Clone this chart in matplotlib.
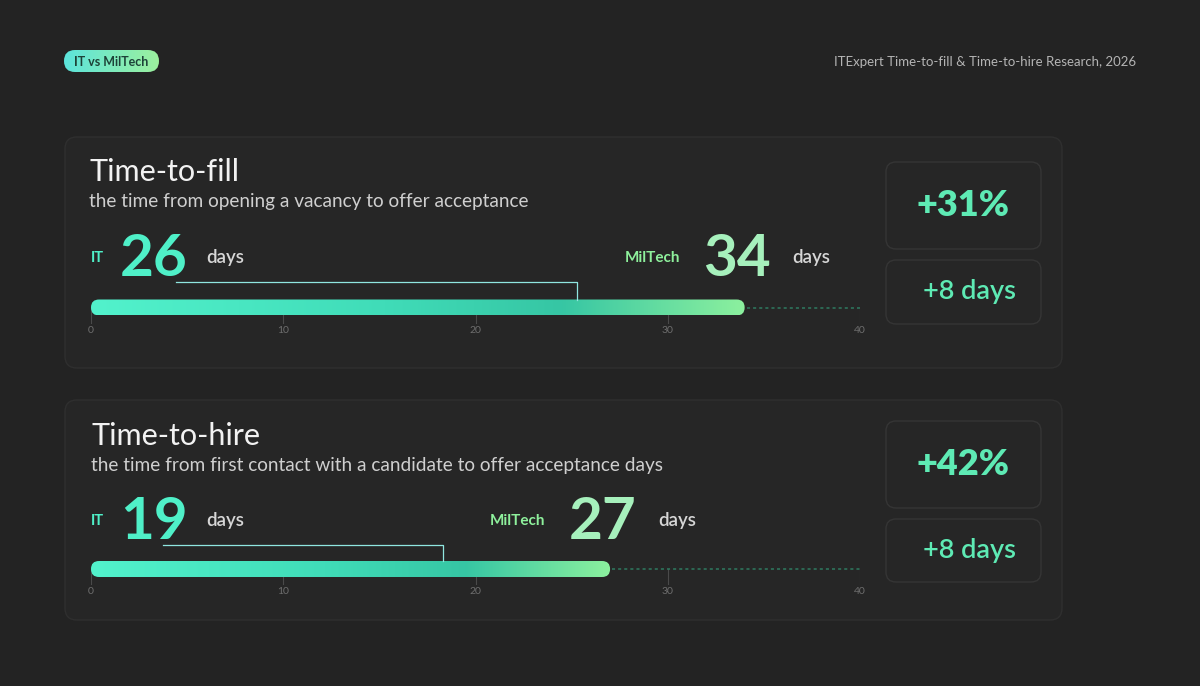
import numpy as np
import matplotlib
matplotlib.use("Agg")
import matplotlib.pyplot as plt
from matplotlib.patches import FancyBboxPatch
from matplotlib.colors import LinearSegmentedColormap

plt.rcParams["font.family"] = ["Lato", "DejaVu Sans"]

# data
metrics = ["Time-to-fill", "Time-to-hire"]
subtitles = ["the time from opening a vacancy to offer acceptance",
             "the time from first contact with a candidate to offer acceptance days"]
it_days = [26, 19]
miltech_days = [34, 27]
pct_diff = ["+31%", "+42%"]
day_diff = ["+8 days", "+8 days"]
ticks = [0, 10, 20, 30, 40]

BG = "#232323"
PANEL = "#262626"
EDGE = "#2f2f2f"
C_IT = "#4ff0c8"
C_MIL = "#8ef09c"
C_MIL_NUM = "#a6f0bc"
C_ACC = "#5eeab4"

fig = plt.figure(figsize=(12, 6.86), dpi=100, facecolor=BG)
bg = fig.add_axes([0, 0, 1, 1])
bg.set_xlim(0, 1200)
bg.set_ylim(686, 0)
bg.axis("off")
bg.set_facecolor(BG)


def rbox(ax, x0, y0, x1, y1, r, fc, ec, lw=1.0, z=1):
    p = FancyBboxPatch((x0, y0), x1 - x0, y1 - y0,
                       boxstyle=f"round,pad=0,rounding_size={r}",
                       fc=fc, ec=ec, lw=lw, zorder=z)
    ax.add_patch(p)
    return p


# header pill
pill = rbox(bg, 64, 50, 159, 72, 11, "none", "none", z=2)
grad = np.linspace(0, 1, 256).reshape(1, -1)
pill_cmap = LinearSegmentedColormap.from_list("pill", ["#5ce4dc", "#9cf09e"])
im = bg.imshow(grad, extent=(64, 159, 72, 50), cmap=pill_cmap, aspect="auto", zorder=2)
im.set_clip_path(pill)
bg.text(111.5, 61.5, "IT vs MilTech", ha="center", va="center", fontsize=9,
        fontweight="bold", color="#1d4238", zorder=3)
bg.text(1136, 61.5, "ITExpert Time-to-fill & Time-to-hire Research, 2026",
        ha="right", va="center", fontsize=9.5, color="#b4b4b4")

bar_cmap = LinearSegmentedColormap.from_list(
    "bar", [(0, "#52f2cc"), (0.45, "#40dcb8"), (0.72, "#36c6a4"), (1, "#8cf09e")])

# panel layout (pixels)
panels = [
    dict(box=(65, 137, 1062, 368), title_y=172, sub_y=202, row_y=258, bar_y=307.5,
         b1=(886, 162, 1041, 249), b2=(886, 260, 1041, 324), title_x=89, cx0=4.4),
    dict(box=(65, 400, 1062, 620), title_y=436, sub_y=465, row_y=521, bar_y=569,
         b1=(886, 421, 1041, 508), b2=(886, 519, 1041, 582), title_x=91, cx0=3.75),
]

px_per_day = (860 - 91) / 40.0
bar_h = 16

for i, P in enumerate(panels):
    x0, y0, x1, y1 = P["box"]
    rbox(bg, x0, y0, x1, y1, 12, PANEL, EDGE, lw=1.0)
    rbox(bg, *P["b1"], 10, PANEL, "#353535", lw=1.0)
    rbox(bg, *P["b2"], 10, PANEL, "#353535", lw=1.0)

    bg.text(P["title_x"], P["title_y"], metrics[i], ha="left", va="center",
            fontsize=22, color="#f2f2f2")
    bg.text(P["title_x"], P["sub_y"], subtitles[i], ha="left", va="center",
            fontsize=13.7, color="#cfcfcf")

    bx = P["b1"]
    bg.text((bx[0] + bx[2]) / 2, (bx[1] + bx[3]) / 2, pct_diff[i], ha="center",
            va="center", fontsize=26, fontweight="heavy", color=C_ACC)
    bx = P["b2"]
    bg.text((bx[0] + bx[2]) / 2 + 6, (bx[1] + bx[3]) / 2, day_diff[i], ha="center",
            va="center", fontsize=19.5, fontweight="semibold", color=C_ACC)

    # bar axes: x in days, y in figure pixels
    ytop, ybot = P["row_y"] - 40, P["bar_y"] + 35
    ax = fig.add_axes([91 / 1200, 1 - ybot / 686, (860 - 91) / 1200, (ybot - ytop) / 686])
    ax.set_xlim(0, 40)
    ax.set_ylim(ybot, ytop)
    ax.axis("off")
    ax.patch.set_alpha(0)

    it, mil = it_days[i], miltech_days[i]
    yb = P["bar_y"]
    rx = (bar_h / 2) / px_per_day
    bar = FancyBboxPatch((0, yb - bar_h / 2), mil, bar_h,
                         boxstyle=f"round,pad=0,rounding_size={rx}",
                         mutation_aspect=px_per_day, fc="none", ec="none", zorder=3)
    ax.add_patch(bar)
    gi = ax.imshow(grad, extent=(0, mil, yb + bar_h / 2, yb - bar_h / 2),
                   cmap=bar_cmap, aspect="auto", zorder=3)
    gi.set_clip_path(bar)

    # dotted remainder
    ax.plot([mil + 0.1, 40], [yb, yb], color="#2e7a60", lw=1.1,
            linestyle=(0, (2, 2)), zorder=2)
    # ticks
    for t in ticks:
        ax.plot([t, t], [yb, yb + bar_h / 2 + 7], color="#4a4a4a", lw=0.8, zorder=1)
        ax.text(t, yb + bar_h / 2 + 15, str(t), ha="center", va="center",
                fontsize=7.5, color="#6e6e6e")

    ry = P["row_y"]
    # IT label and number
    ax.text(0, ry, "IT", ha="left", va="center", fontsize=10.5, fontweight="bold",
            color=C_IT)
    ax.text(1.5, ry + 2, str(it), ha="left", va="center", fontsize=42,
            fontweight="bold", color=C_IT)
    ax.text(6.0, ry, "days", ha="left", va="center", fontsize=13.5,
            fontweight="semibold", color="#d6d6d6")
    # connector from IT number to IT value on bar
    ax.plot([P["cx0"], it - 0.7, it - 0.7], [ry + 24, ry + 24, yb - bar_h / 2],
            color="#8fe6e0", lw=0.9, zorder=4)

    # MilTech label and number
    ax.text(mil - 0.4, ry + 2, str(mil), ha="center", va="center", fontsize=42,
            fontweight="bold", color=C_MIL_NUM)
    ax.text(mil - 3.35, ry, "MilTech", ha="right", va="center", fontsize=11,
            fontweight="bold", color=C_MIL)
    ax.text(mil + 2.5, ry, "days", ha="left", va="center", fontsize=13.5,
            fontweight="semibold", color="#d6d6d6")

fig.savefig("out.png", dpi=100, facecolor=BG)
